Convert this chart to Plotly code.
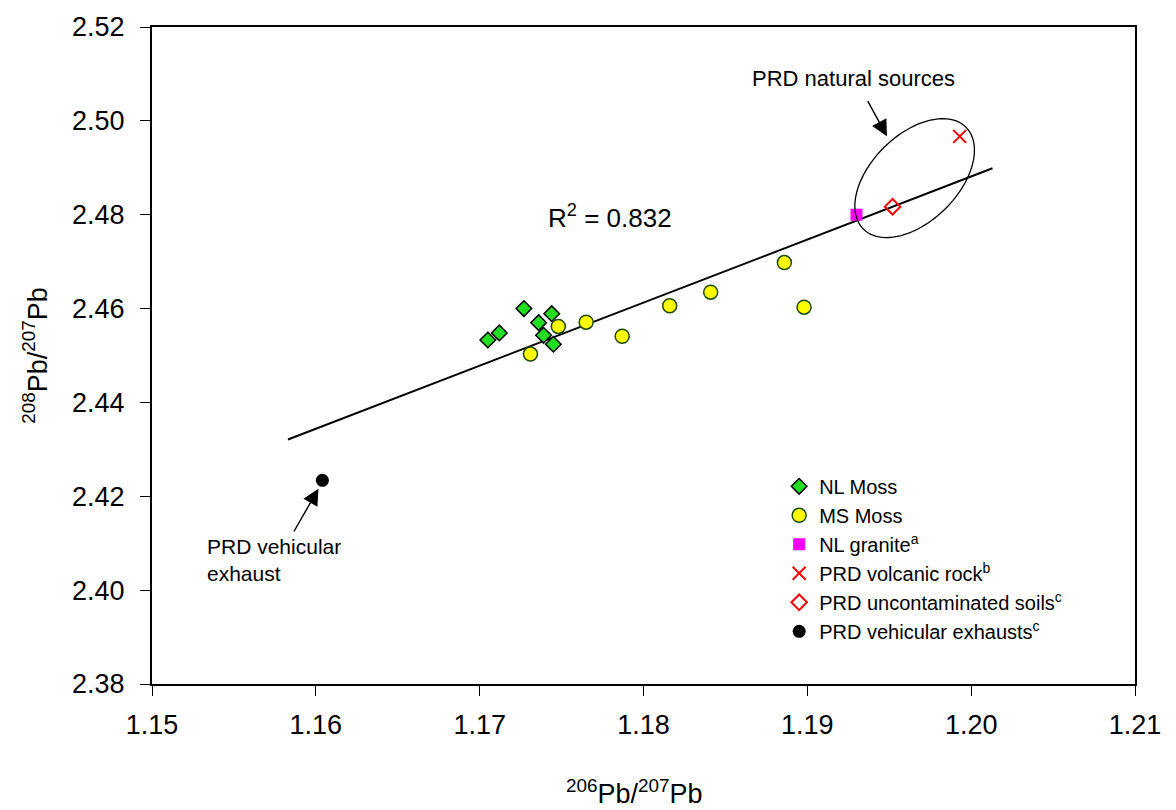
import numpy as np
import plotly.graph_objects as go

# ---- data ----
nl_moss_x = [1.1705, 1.1712, 1.1727, 1.1736, 1.1739, 1.1744, 1.1745]
nl_moss_y = [2.4533, 2.4548, 2.4600, 2.4570, 2.4543, 2.4589, 2.4524]

ms_moss_x = [1.1731, 1.1748, 1.1765, 1.1787, 1.1816, 1.1841, 1.1886, 1.1898]
ms_moss_y = [2.4503, 2.4562, 2.4571, 2.4541, 2.4606, 2.4635, 2.4698, 2.4603]

granite_x = [1.1930]
granite_y = [2.4800]

volcanic_x = [1.1993]
volcanic_y = [2.4967]

soils_x = [1.1952]
soils_y = [2.4817]

exhaust_x = [1.1604]
exhaust_y = [2.4234]

fit_x = [1.1583, 1.2013]
fit_y = [2.4321, 2.4899]

x_ticks = [1.15, 1.16, 1.17, 1.18, 1.19, 1.20, 1.21]
x_tick_labels = ["1.15", "1.16", "1.17", "1.18", "1.19", "1.20", "1.21"]
y_ticks = [2.38, 2.40, 2.42, 2.44, 2.46, 2.48, 2.50, 2.52]
y_tick_labels = ["2.38", "2.40", "2.42", "2.44", "2.46", "2.48", "2.50", "2.52"]

FONT = "Arial, Liberation Sans, sans-serif"

fig = go.Figure()

fig.add_trace(go.Scatter(
    x=fit_x, y=fit_y, mode="lines", line=dict(color="black", width=2),
    showlegend=False, hoverinfo="skip"))

fig.add_trace(go.Scatter(
    x=nl_moss_x, y=nl_moss_y, mode="markers", name="NL Moss",
    marker=dict(symbol="diamond", size=12, color="#22dd22",
                line=dict(color="black", width=1.5))))

fig.add_trace(go.Scatter(
    x=ms_moss_x, y=ms_moss_y, mode="markers", name="MS Moss",
    marker=dict(symbol="circle", size=14, color="#ffff00",
                line=dict(color="#1e4a10", width=1.5))))

fig.add_trace(go.Scatter(
    x=granite_x, y=granite_y, mode="markers", name="NL granite<sup>a</sup>",
    marker=dict(symbol="square", size=12, color="#ff00ff",
                line=dict(color="#ff00ff", width=0))))

fig.add_trace(go.Scatter(
    x=volcanic_x, y=volcanic_y, mode="markers", name="PRD volcanic rock<sup>b</sup>",
    marker=dict(symbol="x-thin-open", size=13, color="red",
                line=dict(color="red", width=2))))

fig.add_trace(go.Scatter(
    x=soils_x, y=soils_y, mode="markers", name="PRD uncontaminated soils<sup>c</sup>",
    marker=dict(symbol="diamond-open", size=12, color="red",
                line=dict(color="red", width=2))))

fig.add_trace(go.Scatter(
    x=exhaust_x, y=exhaust_y, mode="markers", name="PRD vehicular exhausts<sup>c</sup>",
    marker=dict(symbol="circle", size=13, color="black",
                line=dict(color="black", width=0))))

# ---- ellipse around natural sources (pixel-shaped, converted to data units) ----
PX_PER_X = 983 / 0.06
PX_PER_Y = 661 / 0.14
cx, cy = 1.19655, 2.48780
a_px, b_px, th = 72.5, 43.5, np.deg2rad(45)
t = np.linspace(0, 2 * np.pi, 121)
ex = cx + (a_px * np.cos(t) * np.cos(th) - b_px * np.sin(t) * np.sin(th)) / PX_PER_X
ey = cy + (a_px * np.cos(t) * np.sin(th) + b_px * np.sin(t) * np.cos(th)) / PX_PER_Y
path = "M " + " L ".join(f"{xx:.6f},{yy:.6f}" for xx, yy in zip(ex, ey)) + " Z"
fig.add_shape(type="path", path=path, xref="x", yref="y",
              line=dict(color="black", width=1.3))

# ---- text annotations ----
fig.add_annotation(x=1.17405, y=2.47960, xref="x", yref="y", text="R<sup>2</sup> = 0.832",
                   showarrow=False, xanchor="left", yanchor="middle",
                   font=dict(family=FONT, size=26, color="black"))
fig.add_annotation(x=1.18650, y=2.50910, xref="x", yref="y", text="PRD natural sources",
                   showarrow=False, xanchor="left", yanchor="middle",
                   font=dict(family=FONT, size=22, color="black"))
fig.add_annotation(x=1.15324, y=2.40650, xref="x", yref="y",
                   text="PRD vehicular<br>exhaust", align="left",
                   showarrow=False, xanchor="left", yanchor="middle",
                   font=dict(family=FONT, size=21, color="black"))

# x-axis title (placed as annotation to keep the plot area fixed)
fig.add_annotation(x=0.4913, y=-0.165, xref="paper", yref="paper",
                   text="<sup>206</sup>Pb/<sup>207</sup>Pb", showarrow=False,
                   xanchor="center", yanchor="middle",
                   font=dict(family=FONT, size=27, color="black"))

# arrows
fig.add_annotation(x=1.19486, y=2.49670, ax=1.19364, ay=2.50454,
                   xref="x", yref="y", axref="x", ayref="y", text="",
                   showarrow=True, arrowhead=2, arrowsize=2.3, arrowwidth=1.4,
                   arrowcolor="black", standoff=0)
fig.add_annotation(x=1.16016, y=2.42161, ax=1.15861, ay=2.41218,
                   xref="x", yref="y", axref="x", ayref="y", text="",
                   showarrow=True, arrowhead=2, arrowsize=2.3, arrowwidth=1.4,
                   arrowcolor="black", standoff=0)

fig.update_layout(
    width=1176, height=810,
    margin=dict(l=152, r=41, t=23, b=126),
    paper_bgcolor="white", plot_bgcolor="white",
    font=dict(family=FONT, color="black"),
    legend=dict(x=0.638, y=0.3306, xanchor="left", yanchor="top",
                bgcolor="rgba(0,0,0,0)", borderwidth=0,
                font=dict(family=FONT, size=20, color="black"),
                itemwidth=30, tracegroupgap=0),
    xaxis=dict(range=[1.15, 1.21], tickmode="array", tickvals=x_ticks,
               ticktext=x_tick_labels, showgrid=False, zeroline=False,
               showline=True, linecolor="black", linewidth=2, mirror=True,
               ticks="outside", ticklen=10, tickwidth=1, tickcolor="black",
               tickfont=dict(family=FONT, size=27, color="black"),
               ticklabelstandoff=6, automargin=False),
    yaxis=dict(range=[2.38, 2.52], tickmode="array", tickvals=y_ticks,
               ticktext=y_tick_labels, showgrid=False, zeroline=False,
               showline=True, linecolor="black", linewidth=2, mirror=True,
               ticks="outside", ticklen=10, tickwidth=1, tickcolor="black",
               tickfont=dict(family=FONT, size=27, color="black"),
               ticklabelstandoff=10,
               title=dict(text="<sup>208</sup>Pb/<sup>207</sup>Pb",
                          font=dict(family=FONT, size=27, color="black"),
                          standoff=17)),
)

fig.write_html("out.html")
